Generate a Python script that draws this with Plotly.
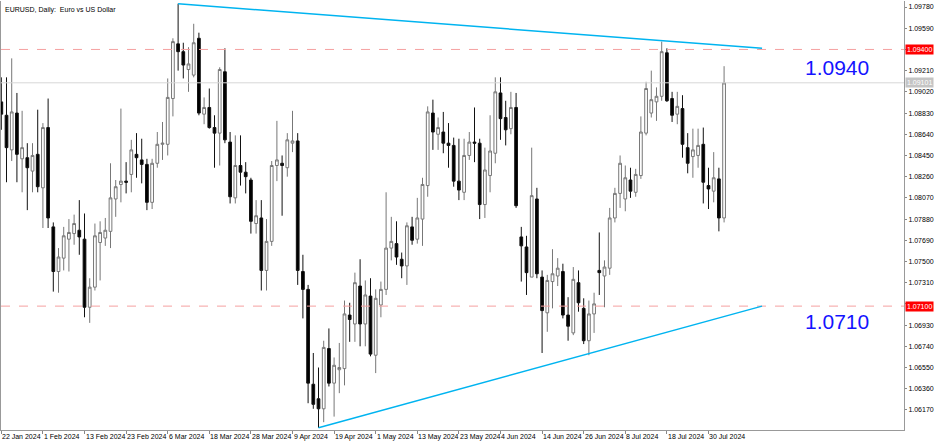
import pandas as pd
import plotly.graph_objects as go

# EURUSD daily bars, 22 Jan 2024 .. 2 Aug 2024
dates = pd.bdate_range("2024-01-22", "2024-08-02")

opens = [1.0893, 1.0881, 1.0850, 1.0883, 1.0842, 1.0843, 1.0831, 1.0846, 1.0816, 1.0870,
         1.0781, 1.0741, 1.0753, 1.0770, 1.0775, 1.0778, 1.0770, 1.0709, 1.0727, 1.0767,
         1.0771, 1.0777, 1.0806, 1.0819, 1.0822, 1.0828, 1.0846, 1.0841, 1.0837, 1.0803,
         1.0838, 1.0855, 1.0855, 1.0896, 1.0945, 1.0938, 1.0922, 1.0917, 1.0950, 1.0882,
         1.0888, 1.0870, 1.0865, 1.0920, 1.0857, 1.0807, 1.0836, 1.0830, 1.0823, 1.0784,
         1.0789, 1.0742, 1.0768, 1.0836, 1.0838, 1.0834, 1.0856, 1.0858, 1.0741, 1.0725,
         1.0640, 1.0627, 1.0618, 1.0672, 1.0641, 1.0653, 1.0654, 1.0702, 1.0694, 1.0728,
         1.0694, 1.0719, 1.0666, 1.0711, 1.0725, 1.0762, 1.0766, 1.0752, 1.0746, 1.0781,
         1.0770, 1.0788, 1.0818, 1.0883, 1.0864, 1.0866, 1.0856, 1.0854, 1.0822, 1.0812,
         1.0845, 1.0857, 1.0856, 1.0801, 1.0827, 1.0847, 1.0901, 1.0879, 1.0869, 1.0888,
         1.0772, 1.0763, 1.0736, 1.0806, 1.0736, 1.0704, 1.0732, 1.0737, 1.0741, 1.0702,
         1.0686, 1.0731, 1.0708, 1.0679, 1.0703, 1.0742, 1.0737, 1.0744, 1.0789, 1.0811,
         1.0806, 1.0823, 1.0812, 1.0827, 1.0865, 1.0883, 1.0893, 1.0898, 1.0937, 1.0896,
         1.0882, 1.0887, 1.0852, 1.0844, 1.0845, 1.0855, 1.0818, 1.0813, 1.0824, 1.0789]

highs = [1.0915, 1.0915, 1.0932, 1.0901, 1.0885, 1.0856, 1.0856, 1.0886, 1.0874, 1.0896,
         1.0785, 1.0762, 1.0781, 1.0788, 1.0792, 1.0805, 1.0793, 1.0735, 1.0784, 1.0786,
         1.0789, 1.0838, 1.0823, 1.0887, 1.0839, 1.0859, 1.0865, 1.0860, 1.0842, 1.0842,
         1.0866, 1.0875, 1.0914, 1.0950, 1.0981, 1.0946, 1.0942, 1.0963, 1.0955, 1.0897,
         1.0905, 1.0881, 1.0924, 1.0941, 1.0866, 1.0863, 1.0863, 1.0839, 1.0825, 1.0805,
         1.0805, 1.0788, 1.0840, 1.0876, 1.0845, 1.0865, 1.0885, 1.0865, 1.0756, 1.0729,
         1.0668, 1.0655, 1.0679, 1.0690, 1.0664, 1.0677, 1.0715, 1.0713, 1.0740, 1.0752,
         1.0733, 1.0735, 1.0725, 1.0732, 1.0812, 1.0790, 1.0786, 1.0758, 1.0785, 1.0790,
         1.0807, 1.0825, 1.0889, 1.0895, 1.0879, 1.0884, 1.0874, 1.0861, 1.0860, 1.0860,
         1.0866, 1.0888, 1.0860, 1.0852, 1.0881, 1.0915, 1.0915, 1.0894, 1.0902, 1.0901,
         1.0781, 1.0773, 1.0852, 1.0816, 1.0742, 1.0738, 1.0761, 1.0753, 1.0748, 1.0718,
         1.0745, 1.0742, 1.0717, 1.0715, 1.0722, 1.0776, 1.0751, 1.0798, 1.0816, 1.0845,
         1.0836, 1.0834, 1.0833, 1.0880, 1.0911, 1.0921, 1.0906, 1.0947, 1.0941, 1.0902,
         1.0902, 1.0899, 1.0865, 1.0869, 1.0869, 1.0870, 1.0834, 1.0848, 1.0834, 1.0925]

lows = [1.0868, 1.0821, 1.0840, 1.0821, 1.0812, 1.0796, 1.0812, 1.0812, 1.0780, 1.0780,
        1.0723, 1.0722, 1.0742, 1.0741, 1.0765, 1.0756, 1.0700, 1.0695, 1.0724, 1.0733,
        1.0764, 1.0762, 1.0790, 1.0803, 1.0811, 1.0812, 1.0825, 1.0820, 1.0796, 1.0797,
        1.0834, 1.0841, 1.0845, 1.0880, 1.0921, 1.0914, 1.0902, 1.0915, 1.0881, 1.0873,
        1.0869, 1.0834, 1.0836, 1.0856, 1.0802, 1.0802, 1.0818, 1.0811, 1.0775, 1.0775,
        1.0724, 1.0724, 1.0764, 1.0822, 1.0791, 1.0826, 1.0848, 1.0729, 1.0699, 1.0623,
        1.0618, 1.0601, 1.0606, 1.0638, 1.0611, 1.0632, 1.0639, 1.0678, 1.0678, 1.0674,
        1.0674, 1.0665, 1.0650, 1.0700, 1.0720, 1.0751, 1.0747, 1.0735, 1.0729, 1.0765,
        1.0766, 1.0764, 1.0808, 1.0850, 1.0850, 1.0847, 1.0834, 1.0817, 1.0805, 1.0805,
        1.0841, 1.0839, 1.0788, 1.0789, 1.0812, 1.0838, 1.0859, 1.0854, 1.0864, 1.0798,
        1.0732, 1.0720, 1.0736, 1.0735, 1.0668, 1.0687, 1.0708, 1.0728, 1.0699, 1.0679,
        1.0684, 1.0705, 1.0676, 1.0666, 1.0686, 1.0720, 1.0709, 1.0738, 1.0785, 1.0798,
        1.0795, 1.0807, 1.0808, 1.0824, 1.0863, 1.0879, 1.0876, 1.0894, 1.0893, 1.0875,
        1.0873, 1.0843, 1.0829, 1.0825, 1.0834, 1.0802, 1.0797, 1.0803, 1.0777, 1.0785]

closes = [1.0882, 1.0852, 1.0884, 1.0846, 1.0852, 1.0834, 1.0845, 1.0817, 1.0870, 1.0789,
          1.0741, 1.0754, 1.0773, 1.0776, 1.0784, 1.0772, 1.0709, 1.0727, 1.0773, 1.0776,
          1.0778, 1.0807, 1.0817, 1.0822, 1.0821, 1.0850, 1.0843, 1.0837, 1.0803, 1.0838,
          1.0855, 1.0856, 1.0897, 1.0947, 1.0938, 1.0926, 1.0927, 1.0946, 1.0883, 1.0888,
          1.0870, 1.0865, 1.0922, 1.0859, 1.0808, 1.0836, 1.0830, 1.0826, 1.0786, 1.0791,
          1.0742, 1.0768, 1.0836, 1.0841, 1.0836, 1.0859, 1.0858, 1.0742, 1.0725, 1.0641,
          1.0622, 1.0618, 1.0673, 1.0641, 1.0657, 1.0655, 1.0703, 1.0698, 1.0731, 1.0694,
          1.0720, 1.0667, 1.0717, 1.0725, 1.0762, 1.0768, 1.0754, 1.0746, 1.0782, 1.0769,
          1.0789, 1.0819, 1.0884, 1.0866, 1.0870, 1.0856, 1.0854, 1.0822, 1.0814, 1.0845,
          1.0857, 1.0856, 1.0801, 1.0832, 1.0849, 1.0902, 1.0878, 1.0868, 1.0888, 1.0800,
          1.0764, 1.0740, 1.0809, 1.0739, 1.0706, 1.0733, 1.0739, 1.0744, 1.0702, 1.0692,
          1.0734, 1.0713, 1.0679, 1.0703, 1.0712, 1.0740, 1.0745, 1.0789, 1.0811, 1.0838,
          1.0825, 1.0813, 1.0828, 1.0866, 1.0905, 1.0895, 1.0898, 1.0938, 1.0894, 1.0881,
          1.0889, 1.0855, 1.0838, 1.0850, 1.0854, 1.0821, 1.0815, 1.0825, 1.0789, 1.0910]

price_ticks = [1.0617, 1.0636, 1.0655, 1.0674, 1.0693, 1.0712, 1.0731, 1.0750, 1.0769, 1.0788,
               1.0807, 1.0826, 1.0845, 1.0864, 1.0883, 1.0902, 1.0921, 1.0940, 1.0959, 1.0978]
# ticks whose label sits under a line's price box
hidden_ticks = [1.0712, 1.0940]

label_dates = ["2024-01-22", "2024-02-01", "2024-02-13", "2024-02-23", "2024-03-06", "2024-03-18",
               "2024-03-28", "2024-04-09", "2024-04-19", "2024-05-01", "2024-05-13", "2024-05-23",
               "2024-06-04", "2024-06-14", "2024-06-26", "2024-07-08", "2024-07-18", "2024-07-30"]

resistance = 1.0940
support = 1.0710
bid = 1.09101

# trend lines: (bar, price) anchors, end bar lies in the empty space right of the last bar
upper_trend_bars = [34, 146.3]
upper_trend_prices = [1.0981, 1.0941]
lower_trend_bars = [61, 146.3]
lower_trend_prices = [1.0601, 1.0710]

FONT = "Liberation Sans"
bars = list(range(len(dates)))
label_bars = [dates.get_loc(pd.Timestamp(d)) for d in label_dates]
label_text = ["%d %s" % (pd.Timestamp(d).day, pd.Timestamp(d).strftime("%b %Y")) for d in label_dates]

fig = go.Figure()

fig.add_trace(go.Candlestick(
    x=bars, open=opens, high=highs, low=lows, close=closes,
    increasing=dict(fillcolor="white", line=dict(color="#777777", width=1)),
    decreasing=dict(fillcolor="black", line=dict(color="#111111", width=1)),
    whiskerwidth=0, hoverinfo="skip", showlegend=False))

xr = [-0.06, 173.6]
for lvl, col, dash in [(resistance, "#f5a0a0", "dash"), (support, "#f5a0a0", "dash"), (bid, "#d8d8d8", "solid")]:
    fig.add_trace(go.Scatter(x=xr, y=[lvl, lvl], mode="lines",
                             line=dict(color=col, width=1, dash=dash),
                             hoverinfo="skip", showlegend=False))

for bx, py in [(upper_trend_bars, upper_trend_prices), (lower_trend_bars, lower_trend_prices)]:
    fig.add_trace(go.Scatter(x=bx, y=py, mode="lines", line=dict(color="#00b4f0", width=1.5),
                             hoverinfo="skip", showlegend=False))

# date labels, left aligned at their bar as in MT4
for b, t in zip(label_bars, label_text):
    fig.add_annotation(x=b, y=0, xref="x", yref="paper", text=t, showarrow=False,
                       xanchor="left", yanchor="top", yshift=-1, xshift=-1,
                       font=dict(family=FONT, size=7, color="black"))

fig.add_annotation(x=0, y=1, xref="paper", yref="paper", text="EURUSD,\u00a0Daily:\u00a0\u00a0Euro vs US Dollar",
                   showarrow=False, xanchor="left", yanchor="top", xshift=2, yshift=-3,
                   font=dict(family=FONT, size=7, color="black"))

for lvl, txt, bg, fc in [(resistance, "1.09400", "#ff0000", "white"), (support, "1.07100", "#ff0000", "white"),
                         (bid, "1.09101", "#c4c4c4", "white")]:
    fig.add_annotation(x=1, y=lvl, xref="paper", yref="y", text=txt, showarrow=False,
                       xanchor="left", yanchor="middle", xshift=1, bgcolor=bg, borderpad=1,
                       font=dict(family=FONT, size=7, color=fc))

for lvl, txt, yy in [(resistance, "1.0940", 1.09242), (support, "1.0710", 1.06964)]:
    fig.add_annotation(x=154.2, y=yy, xref="x", yref="y", text=txt, showarrow=False,
                       xanchor="left", yanchor="middle",
                       font=dict(family="Liberation Sans", size=21, color="#1414ff"))

fig.update_xaxes(range=xr, tickvals=label_bars, ticktext=[""] * len(label_bars), ticks="outside",
                 ticklen=3, tickcolor="#888888", showline=True, linecolor="#999999", mirror=False,
                 showgrid=False, zeroline=False, rangeslider_visible=False, fixedrange=True)
fig.update_yaxes(range=[1.05990, 1.09834], side="right", tickvals=price_ticks,
                 ticktext=["" if p in hidden_ticks else "%.5f" % p for p in price_ticks],
                 ticks="outside", ticklen=2,
                 tickcolor="#888888", tickfont=dict(family=FONT, size=7, color="black"),
                 showline=True, linecolor="#999999", mirror=True, showgrid=False, zeroline=False,
                 fixedrange=True)
fig.update_layout(width=936, height=442, margin=dict(l=1, r=32, t=1, b=12, autoexpand=False),
                  paper_bgcolor="white", plot_bgcolor="white", boxgap=0.25, hovermode=False)

# the page's default 8px body margin would push the chart off the window
fig.write_html("out.html", config={"displayModeBar": False},
               post_script="document.body.style.margin='0';")
